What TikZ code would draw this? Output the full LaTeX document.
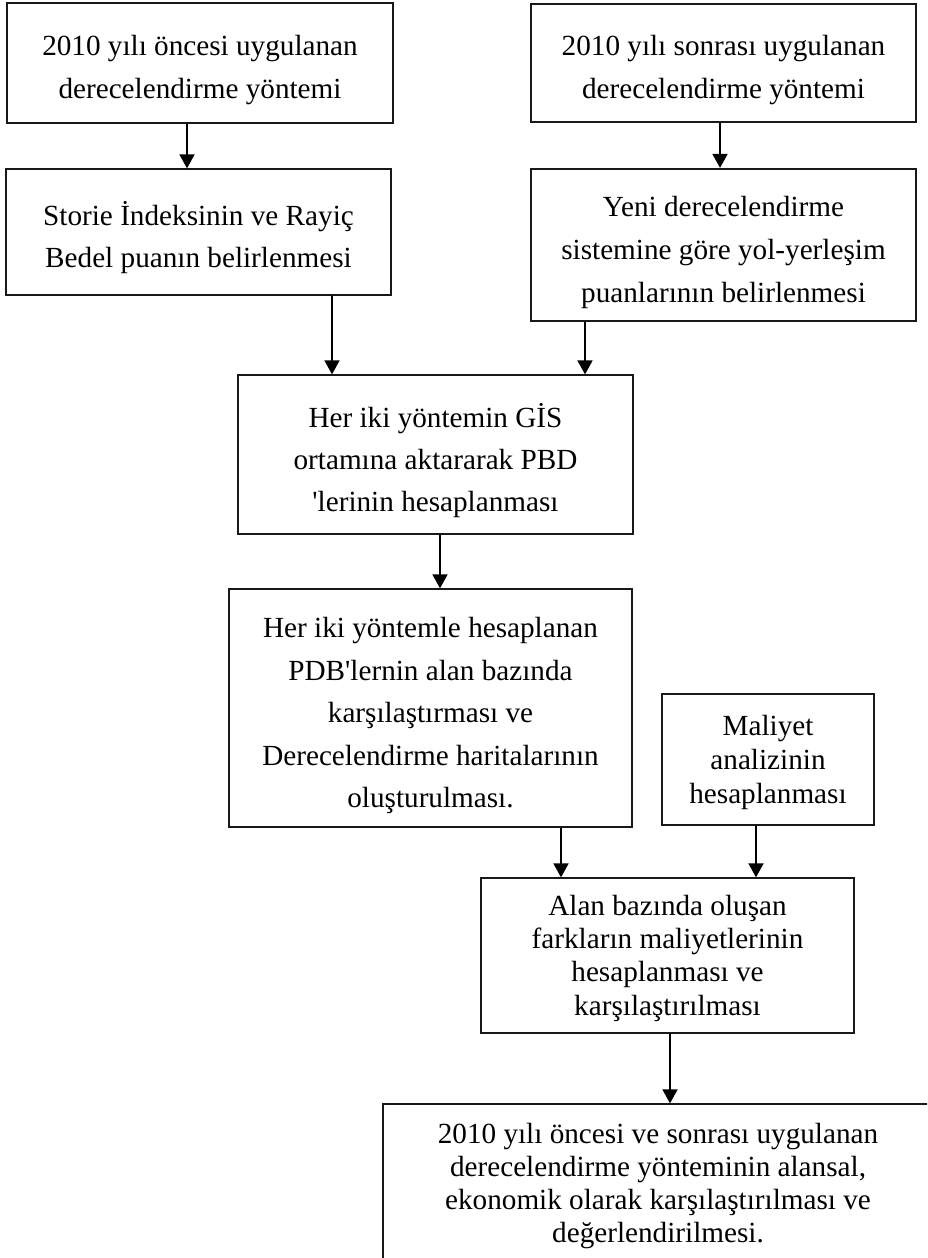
\documentclass[tikz,border=0pt]{standalone}
\usepackage{fontspec}
\setmainfont{Liberation Serif}
\usetikzlibrary{arrows.meta}
\newcommand{\fs}[1]{\fontsize{29.2}{#1}\selectfont}
\begin{document}
\begin{tikzpicture}[x=1pt,y=-1pt,
  boxs/.style={draw=black!90, line width=1.3pt, inner sep=0pt, fill=none},
  txt/.style={anchor=north, inner sep=0pt, align=center, text=black},
  arr/.style={draw=black, line width=1.8pt, -{Triangle[width=15pt,length=14pt]}}]
\useasboundingbox (0,0) rectangle (927,1258);
\clip (0,0) rectangle (927,1258);

% boxes
\node[boxs, minimum width=386pt, minimum height=120pt] (b1) at (200,63) {};
\node[boxs, minimum width=385pt, minimum height=118pt] (b2) at (723.5,63) {};
\node[boxs, minimum width=385pt, minimum height=126pt] (b3) at (198.5,232) {};
\node[boxs, line width=2.2pt, minimum width=385pt, minimum height=152pt] (b4) at (723.5,245) {};
\node[boxs, minimum width=395pt, minimum height=159pt] (b5) at (435.5,454.5) {};
\node[boxs, minimum width=403pt, minimum height=238pt] (b6) at (430.5,708) {};
\node[boxs, minimum width=212pt, minimum height=131pt] (b7) at (768,759.5) {};
\node[boxs, minimum width=373pt, minimum height=155pt] (b8) at (667.5,955.5) {};
\node[boxs, minimum width=550pt, minimum height=176pt] (b9) at (658,1192) {};

% texts
\node[txt, font=\fs{43}] (t1) at (200,24.9) {\strut 2010 yılı öncesi uygulanan\\derecelendirme yöntemi};
\node[txt, font=\fs{43}] (t2) at (723.5,24.9) {\strut 2010 yılı sonrası uygulanan\\derecelendirme yöntemi};
\node[txt, font=\fs{42}] (t3) at (198.5,195.6) {\strut Storie İndeksinin ve Rayiç\\Bedel puanın belirlenmesi};
\node[txt, font=\fs{43}] (t4) at (723.5,185.9) {\strut Yeni derecelendirme\\sistemine göre yol-yerleşim\\puanlarının belirlenmesi};
\node[txt, font=\fs{42}] (t5) at (435.5,397.6) {\strut Her iki yöntemin GİS\\ortamına aktararak PBD\\\textquotesingle lerinin hesaplanması};
\node[txt, font=\fs{42.5}] (t6) at (430.5,608) {\strut Her iki yöntemle hesaplanan\\PDB\textquotesingle lernin alan bazında\\karşılaştırması ve\\Derecelendirme haritalarının\\oluşturulması.};
\node[txt, font=\fs{34}] (t7) at (768,711) {\strut Maliyet\\analizinin\\hesaplanması};
\node[txt, font=\fs{33.3}] (t8) at (667.5,891.7) {\strut Alan bazında oluşan\\farkların maliyetlerinin\\hesaplanması ve\\karşılaştırılması};
\node[txt, font=\fs{33}] (t9) at (658,1120) {\strut 2010 yılı öncesi ve sonrası uygulanan\\derecelendirme yönteminin alansal,\\ekonomik olarak karşılaştırılması ve\\değerlendirilmesi.};

% connectors
\draw[arr] ([xshift=-13pt]b1.south) -- ([xshift=-13pt]b1.south |- b3.north);
\draw[arr] ([xshift=-3.5pt]b2.south) -- ([xshift=-3.5pt]b2.south |- b4.north);
\draw[arr] ([xshift=133.5pt]b3.south) -- ([xshift=133.5pt]b3.south |- b5.north);
\draw[arr] ([xshift=-138.5pt]b4.south) -- ([xshift=-138.5pt]b4.south |- b5.north);
\draw[arr] ([xshift=4.5pt]b5.south) -- ([xshift=4.5pt]b5.south |- b6.north);
\draw[arr] ([xshift=130.5pt]b6.south) -- ([xshift=130.5pt]b6.south |- b8.north);
\draw[arr] ([xshift=-12pt]b7.south) -- ([xshift=-12pt]b7.south |- b8.north);
\draw[arr] ([xshift=2.5pt]b8.south) -- ([xshift=2.5pt]b8.south |- b9.north);
\end{tikzpicture}
\end{document}
